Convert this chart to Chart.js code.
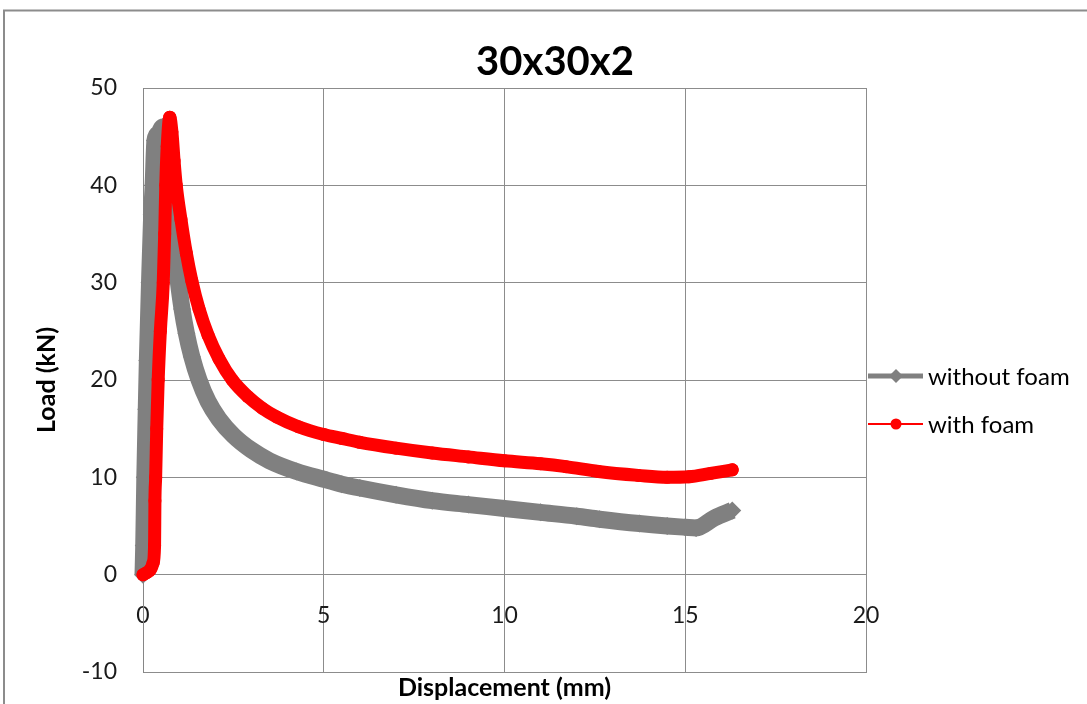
<!DOCTYPE html>
<html>
<head>
<meta charset="utf-8">
<title>30x30x2</title>
<script src="https://cdn.jsdelivr.net/npm/chart.js@4.4.1/dist/chart.umd.min.js"></script>
<style>
  html, body { margin: 0; padding: 0; background: #ffffff; }
  #wrap { position: relative; width: 1087px; height: 704px; }
</style>
</head>
<body>
<div id="wrap"><canvas id="chart" width="1087" height="704"></canvas></div>
<script>
// Load-displacement curves of the 30x30x2 tube
const chartTitle = '30x30x2';
const xAxisTitle = 'Displacement (mm)';
const yAxisTitle = 'Load (kN)';
const seriesNames = ['without foam', 'with foam'];

// without foam
const dispWithout = [0, 0.02, 0.05, 0.09, 0.12, 0.18, 0.24, 0.28, 0.33, 0.42, 0.55,
  0.63, 0.72, 0.8, 0.88, 0.97, 1.08, 1.2, 1.35, 1.55, 1.8, 2.1, 2.5, 3.0, 3.5,
  4.25, 5, 5.5, 6, 7, 8, 9, 10, 11, 12, 12.63, 13.73, 14.5, 15, 15.3, 15.8, 16.3];
const loadWithout = [0, 3, 10, 17, 22, 30, 37, 40, 44.6, 45.3, 46,
  43, 40, 36.5, 33.3, 30.3, 27.3, 24.8, 22.4, 20, 17.8, 16.0, 14.3, 12.8, 11.7,
  10.6, 9.8, 9.3, 8.9, 8.2, 7.6, 7.2, 6.8, 6.4, 6.0, 5.7, 5.25, 5.0, 4.87, 4.8, 5.8, 6.6];

// with foam
const dispWith = [0, 0.1, 0.2, 0.28, 0.32, 0.33, 0.35, 0.38, 0.42, 0.48, 0.56, 0.6, 0.63,
  0.67, 0.74, 0.8, 0.86, 0.92, 1.05, 1.2, 1.35, 1.55, 1.8, 2.1, 2.47, 2.9, 3.3, 3.7,
  4.3, 5, 5.5, 6, 7, 8, 9, 10, 11, 11.7, 12.6, 13.7, 14.5, 15.1, 15.7, 16.3];
const loadWith = [0, 0.2, 0.5, 1.2, 3, 7.6, 10, 15, 20, 25, 30, 35, 40,
  44, 47, 45.5, 42.5, 40, 36.5, 33, 30.2, 27.3, 24.6, 22.2, 20, 18.3, 17.1, 16.2,
  15.2, 14.4, 14.0, 13.6, 13, 12.5, 12.1, 11.7, 11.4, 11.1, 10.6, 10.2, 10.0, 10.05, 10.4, 10.77];

const xTickValues = [0, 5, 10, 15, 20];
const yTickValues = [-10, 0, 10, 20, 30, 40, 50];

const toPoints = (xs, ys) => xs.map((x, i) => ({ x: x, y: ys[i] }));

const FONT = 'Lato, "Open Sans", sans-serif';
const GRID = '#8c8c8c';
const GREY = '#808080';
const RED = '#ff0000';

// Outer frame, title and the line+marker legend
const decorations = {
  id: 'decorations',
  beforeDraw(chart) {
    const ctx = chart.ctx;
    ctx.save();
    ctx.fillStyle = '#ffffff';
    ctx.fillRect(0, 0, chart.width, chart.height);
    ctx.restore();
  },
  afterDraw(chart) {
    const ctx = chart.ctx;
    ctx.save();
    // frame
    ctx.strokeStyle = '#8c8c8c';
    ctx.lineWidth = 2;
    ctx.strokeRect(4, 10.5, 1200, 800);
    // title
    ctx.fillStyle = '#000000';
    ctx.font = 'bold 40px ' + FONT;
    ctx.textAlign = 'center';
    ctx.textBaseline = 'middle';
    ctx.fillText(chartTitle, 555, 62);
    // legend
    const items = chart.data.datasets;
    const rows = [376, 424];
    items.forEach((ds, i) => {
      const y = rows[i];
      ctx.strokeStyle = ds.borderColor;
      ctx.lineWidth = ds.legendLineWidth;
      ctx.lineCap = 'butt';
      ctx.beginPath();
      ctx.moveTo(868, y);
      ctx.lineTo(923, y);
      ctx.stroke();
      ctx.fillStyle = ds.borderColor;
      ctx.beginPath();
      if (ds.pointStyle === 'rectRot') {
        const r = 7;
        ctx.moveTo(896 - r, y);
        ctx.lineTo(896, y - r);
        ctx.lineTo(896 + r, y);
        ctx.lineTo(896, y + r);
        ctx.closePath();
      } else {
        ctx.arc(896, y, 5.5, 0, Math.PI * 2);
      }
      ctx.fill();
      ctx.fillStyle = '#000000';
      ctx.font = '24px ' + FONT;
      ctx.textAlign = 'left';
      ctx.textBaseline = 'middle';
      ctx.fillText(ds.label, 928, y + 1);
    });
    ctx.restore();
  }
};

new Chart(document.getElementById('chart'), {
  type: 'scatter',
  data: {
    datasets: [
      {
        label: seriesNames[0],
        data: toPoints(dispWithout, loadWithout),
        showLine: true,
        borderColor: GREY,
        backgroundColor: GREY,
        borderWidth: 17,
        borderJoinStyle: 'round',
        borderCapStyle: 'butt',
        cubicInterpolationMode: 'monotone',
        pointStyle: 'rectRot',
        pointRadius: 9,
        pointBorderWidth: 0,
        pointBackgroundColor: GREY,
        legendLineWidth: 5,
        order: 1,
        clip: false
      },
      {
        label: seriesNames[1],
        data: toPoints(dispWith, loadWith),
        showLine: true,
        borderColor: RED,
        backgroundColor: RED,
        borderWidth: 13,
        borderJoinStyle: 'round',
        borderCapStyle: 'round',
        cubicInterpolationMode: 'monotone',
        pointStyle: 'circle',
        pointRadius: 6.5,
        pointBorderWidth: 0,
        pointBackgroundColor: RED,
        legendLineWidth: 2,
        order: 0,
        clip: false
      }
    ]
  },
  options: {
    responsive: false,
    animation: false,
    events: [],
    layout: { padding: { top: 88, right: 221, left: 0, bottom: 0 } },
    plugins: {
      legend: { display: false },
      title: { display: false },
      tooltip: { enabled: false }
    },
    scales: {
      x: {
        type: 'linear',
        position: 'bottom',
        min: xTickValues[0],
        max: xTickValues[xTickValues.length - 1],
        afterBuildTicks: s => { s.ticks = xTickValues.map(v => ({ value: v })); },
        afterFit: s => { s.height = 32; },
        ticks: { display: false },
        grid: { color: GRID, lineWidth: 1, drawTicks: false },
        border: { color: GRID, width: 1 },
        title: {
          display: true,
          text: xAxisTitle,
          color: '#000000',
          font: { family: FONT, size: 25, weight: 'bold' },
          padding: { top: 0, bottom: 1 }
        }
      },
      xLabels: {
        type: 'linear',
        axis: 'x',
        position: { y: 0 },
        min: xTickValues[0],
        max: xTickValues[xTickValues.length - 1],
        afterBuildTicks: s => { s.ticks = xTickValues.map(v => ({ value: v })); },
        grid: { display: false, drawTicks: false },
        border: { display: false },
        ticks: {
          color: '#1a1a1a',
          padding: 27,
          font: { family: FONT, size: 23 },
          maxRotation: 0
        }
      },
      y: {
        type: 'linear',
        position: 'left',
        min: yTickValues[0],
        max: yTickValues[yTickValues.length - 1],
        afterBuildTicks: s => { s.ticks = yTickValues.map(v => ({ value: v })); },
        afterFit: s => { s.width = 143; s.paddingTop = 0; s.paddingBottom = 0; },
        grid: { color: GRID, lineWidth: 1, drawTicks: false },
        border: { color: '#868686', width: 1 },
        ticks: {
          color: '#1a1a1a',
          padding: 26,
          font: { family: FONT, size: 23 }
        },
        title: {
          display: true,
          text: yAxisTitle,
          color: '#000000',
          font: { family: FONT, size: 25, weight: 'bold' },
          padding: { top: 32, bottom: 0 }
        }
      }
    }
  },
  plugins: [decorations]
});
</script>
</body>
</html>
